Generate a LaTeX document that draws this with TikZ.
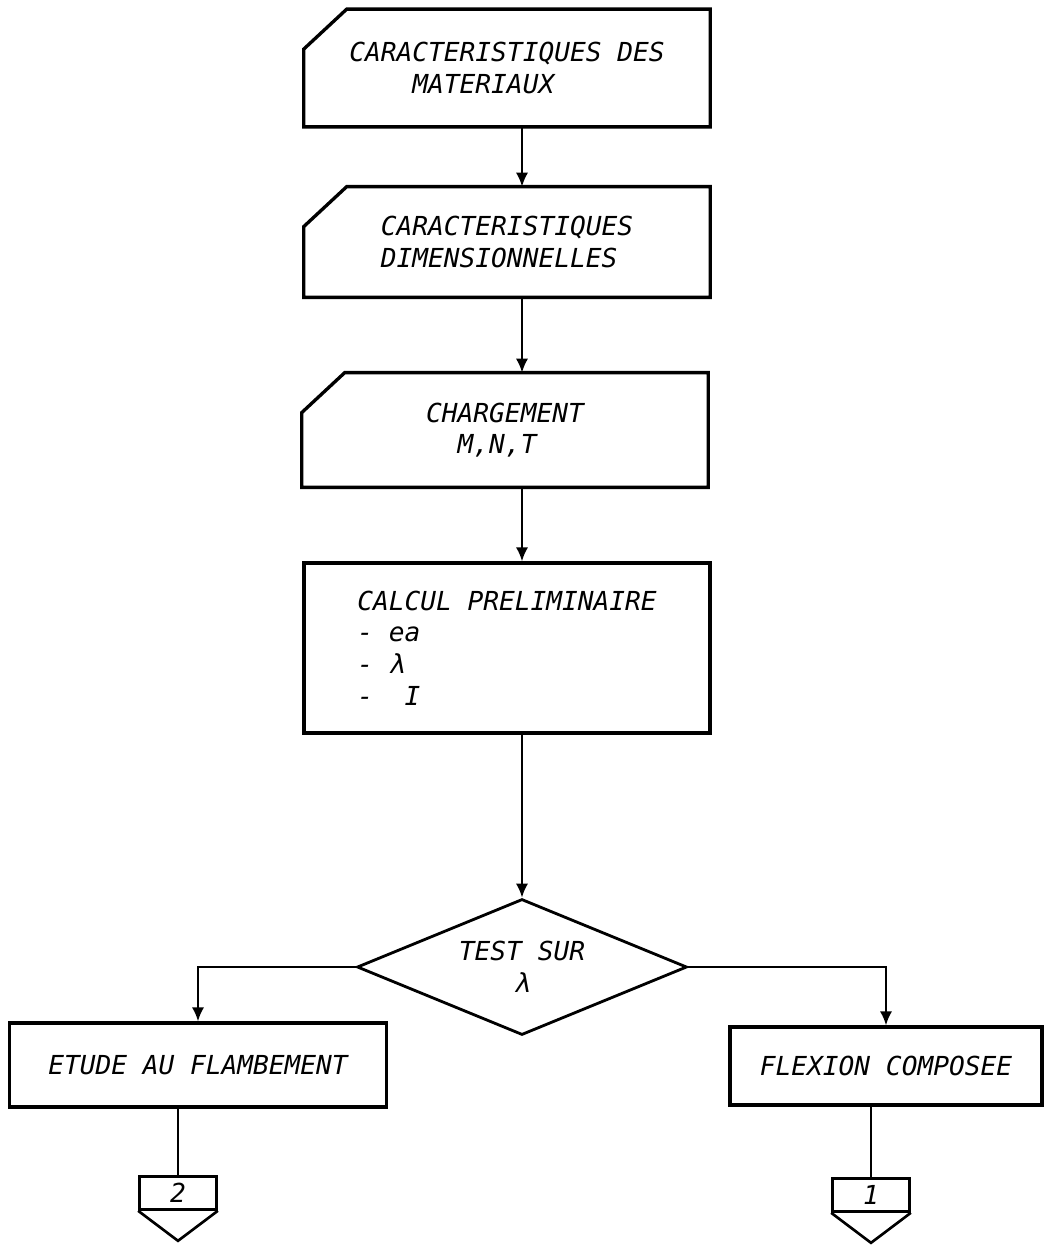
\documentclass[tikz,border=0pt]{standalone}
\usepackage{fontspec}
\setmonofont{DejaVu Sans Mono}
\usetikzlibrary{arrows.meta,positioning,calc,shapes.geometric}
\newcommand{\flowfont}{\ttfamily\itshape\fontsize{14.9pt}{18pt}\selectfont}
% carte perforee : coin haut gauche coupe
\newcommand{\cardline}[1]{%
  \draw[line width=1.9pt] ($(#1.north west)+(43,0)$) -- (#1.north east)
    -- (#1.south east) -- (#1.south west) -- ($(#1.north west)+(0,40)$) -- cycle;}
\tikzset{
  card/.style={rectangle, minimum width=8.12cm, inner sep=0pt, align=left, font=\flowfont},
  proc/.style={rectangle, draw, line width=1.9pt, inner sep=0pt, align=left, font=\flowfont},
  test/.style={diamond, draw, line width=1.6pt, aspect=2.4, minimum width=6.6cm,
      minimum height=2.72cm, inner sep=0pt, align=center, font=\flowfont},
  offp/.style={rectangle, draw, line width=1.5pt, minimum width=1.54cm,
      minimum height=0.66cm, inner sep=0pt, font=\flowfont},
  arr/.style={-{Latex[length=8pt,width=7pt]}, line width=1.2pt},
  lnk/.style={line width=1.2pt},
}
\begin{document}
\begin{tikzpicture}[x=0.02cm, y=-0.02cm]
  \useasboundingbox (0,0) rectangle (1047,1247);
  % input cards
  \node[card, minimum height=2.34cm] (mat) at (507,68)
    {CARACTERISTIQUES DES\\\hphantom{CARA}MATERIAUX};
  \node[card, minimum height=2.2cm] (dim) at (507,242)
    {CARACTERISTIQUES\\DIMENSIONNELLES};
  \node[card, minimum height=2.28cm] (chg) at (505,430)
    {CHARGEMENT\\\hphantom{CH}M,N,T};
  \cardline{mat} \cardline{dim} \cardline{chg}
  % calcul
  \node[proc, minimum width=8.12cm, minimum height=3.4cm] (pre) at (507,648)
    {CALCUL PRELIMINAIRE\\-~ea\\-~λ\\-~~I\hphantom{XXXXXXXXXXXXXX}};
  \node[test] (dia) at (522,967) {TEST SUR\\λ};
  \node[proc, minimum width=7.54cm, minimum height=1.68cm] (etu) at (198,1065)
    {ETUDE AU FLAMBEMENT};
  \node[proc, minimum width=6.24cm, minimum height=1.56cm] (flx) at (886,1066)
    {FLEXION COMPOSEE};
  % renvois
  \node[offp] (c2) at (178,1193) {2};
  \node[offp] (c1) at (871,1195) {1};
  \draw[line width=1.5pt] (c2.south west) -- ($(c2.south)+(0,30)$) -- (c2.south east);
  \draw[line width=1.5pt] (c1.south west) -- ($(c1.south)+(0,30)$) -- (c1.south east);
  % liaisons
  \draw[arr] (mat.south -| dia.north) -- (dim.north -| dia.north);
  \draw[arr] (dim.south -| dia.north) -- (chg.north -| dia.north);
  \draw[arr] (chg.south -| dia.north) -- (pre.north -| dia.north);
  \draw[arr] (pre.south -| dia.north) -- (dia.north);
  \draw[arr] (dia.west) -| (etu.north);
  \draw[arr] (dia.east) -| (flx.north);
  \draw[lnk] (etu.south -| c2.north) -- (c2.north);
  \draw[lnk] (flx.south -| c1.north) -- (c1.north);
\end{tikzpicture}
\end{document}
